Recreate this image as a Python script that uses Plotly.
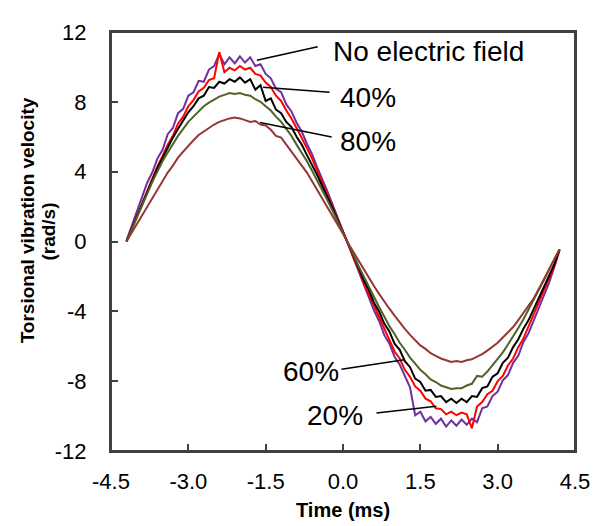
import plotly.graph_objects as go

time_ms = [-4.2, -4.1, -4.0, -3.9, -3.8, -3.7, -3.6, -3.5, -3.4, -3.3, -3.2, -3.1, -3.0,
           -2.9, -2.8, -2.7, -2.6, -2.5, -2.4, -2.3, -2.2, -2.1, -2.0, -1.9, -1.8, -1.7,
           -1.6, -1.5, -1.4, -1.3, -1.2, -1.1, -1.0, -0.9, -0.8, -0.7, -0.6, -0.5, -0.4,
           -0.3, -0.2, -0.1, 0.0, 0.1, 0.2, 0.3, 0.4, 0.5, 0.6, 0.7, 0.8, 0.9, 1.0, 1.1,
           1.2, 1.3, 1.4, 1.5, 1.6, 1.7, 1.8, 1.9, 2.0, 2.1, 2.2, 2.3, 2.4, 2.5, 2.6, 2.7,
           2.8, 2.9, 3.0, 3.1, 3.2, 3.3, 3.4, 3.5, 3.6, 3.7, 3.8, 3.9, 4.0, 4.1, 4.2]

no_field = [0.05, 0.85, 1.70, 2.50, 3.35, 3.95, 4.75, 5.25, 6.15, 6.50, 7.35, 7.60, 8.35,
            8.55, 9.20, 9.15, 9.85, 10.05, 10.75, 10.15, 10.55, 10.20, 10.60, 10.25, 10.55,
            10.05, 10.15, 9.60, 9.35, 8.75, 8.55, 7.85, 7.45, 6.80, 6.30, 5.60, 5.00, 4.25,
            3.60, 2.85, 2.10, 1.35, 0.60,
            -0.15, -0.95, -1.65, -2.50, -3.15, -3.95, -4.55, -5.35, -5.85, -6.60, -7.05,
            -7.75, -8.35, -9.95, -9.75, -10.30, -10.05, -10.45, -10.15, -10.60, -10.25,
            -10.55, -10.20, -10.50, -10.15, -10.35, -9.55, -9.45, -8.85, -8.60, -7.95,
            -7.65, -6.95, -6.55, -5.75, -5.25, -4.50, -3.85, -3.00, -2.35, -1.45, -0.50]

field_20 = [0.00, 0.72, 1.50, 2.20, 2.90, 3.60, 4.30, 4.90, 5.55, 6.05, 6.75, 7.15, 7.75,
            8.10, 8.60, 8.80, 9.25, 9.35, 10.85, 9.70, 9.95, 9.80, 10.05, 9.85, 9.95, 9.60,
            9.50, 9.10, 8.85, 8.35, 8.05, 7.50, 7.05, 6.50, 5.95, 5.35, 4.75, 4.05, 3.45,
            2.70, 2.05, 1.30, 0.60,
            -0.15, -0.90, -1.55, -2.35, -3.00, -3.75, -4.35, -5.05, -5.60, -6.30, -6.70,
            -7.35, -7.75, -8.30, -8.55, -9.00, -9.15, -9.55, -9.60, -9.90, -9.75, -9.95,
            -9.80, -9.90, -10.70, -9.45, -9.20, -8.75, -8.55, -8.00, -7.70, -7.10, -6.70,
            -6.05, -5.55, -4.85, -4.25, -3.50, -2.85, -2.15, -1.40, -0.45]

field_40 = [0.00, 0.72, 1.45, 2.15, 2.85, 3.50, 4.20, 4.80, 5.35, 5.95, 6.45, 6.90, 7.40,
            7.75, 8.20, 8.35, 8.85, 8.80, 9.15, 9.05, 9.30, 9.15, 9.40, 9.10, 9.30, 8.70,
            8.95, 8.05, 8.20, 7.55, 7.35, 6.85, 6.55, 6.00, 5.55, 4.95, 4.40, 3.80, 3.15,
            2.55, 1.90, 1.20, 0.55,
            -0.10, -0.85, -1.45, -2.20, -2.75, -3.50, -4.00, -4.70, -5.15, -5.85, -6.20,
            -6.85, -7.20, -7.85, -8.05, -8.55, -8.50, -8.90, -8.85, -9.20, -9.00, -9.25,
            -9.00, -9.20, -8.85, -8.90, -8.40, -8.30, -7.75, -7.55, -6.95, -6.65, -6.05,
            -5.60, -5.00, -4.50, -3.85, -3.25, -2.60, -2.00, -1.30, -0.45]

field_60 = [0.00, 0.70, 1.40, 2.10, 2.75, 3.40, 4.00, 4.60, 5.10, 5.60, 6.05, 6.45, 6.85,
            7.15, 7.45, 7.75, 7.95, 8.15, 8.30, 8.40, 8.50, 8.45, 8.50, 8.40, 8.35, 8.15,
            8.00, 7.75, 7.50, 7.15, 6.85, 6.45, 6.05, 5.55, 5.10, 4.60, 4.05, 3.50, 2.95,
            2.35, 1.75, 1.10, 0.50,
            -0.10, -0.75, -1.40, -2.00, -2.60, -3.20, -3.75, -4.30, -4.85, -5.30, -5.80,
            -6.20, -6.65, -7.00, -7.35, -7.60, -7.90, -8.05, -8.25, -8.35, -8.45, -8.40,
            -8.40, -8.25, -8.15, -7.70, -7.75, -7.45, -7.10, -6.75, -6.35, -5.90, -5.45,
            -4.95, -4.45, -3.90, -3.35, -2.80, -2.20, -1.60, -1.05, -0.45]

field_80 = [0.00, 0.50, 1.00, 1.50, 2.00, 2.50, 3.00, 3.45, 3.95, 4.35, 4.80, 5.15, 5.50,
            5.80, 6.10, 6.30, 6.55, 6.70, 6.85, 6.95, 7.05, 7.10, 7.05, 6.95, 6.85, 6.90,
            6.70, 6.65, 6.40, 6.05, 5.95, 5.55, 5.15, 4.80, 4.35, 3.95, 3.45, 2.95, 2.50,
            1.95, 1.45, 0.95, 0.45,
            -0.10, -0.60, -1.10, -1.60, -2.05, -2.55, -3.00, -3.45, -3.85, -4.25, -4.65,
            -5.00, -5.35, -5.65, -5.95, -6.15, -6.40, -6.55, -6.70, -6.80, -6.90, -6.85,
            -6.90, -6.80, -6.75, -6.60, -6.45, -6.25, -6.05, -5.80, -5.50, -5.20, -4.90,
            -4.50, -4.10, -3.65, -3.25, -2.70, -2.15, -1.55, -1.00, -0.45]

series_names = ["No electric field", "20%", "40%", "60%", "80%"]
series_values = [no_field, field_20, field_40, field_60, field_80]
series_colors = ["#7030A0", "#FF0000", "#000000", "#4F6228", "#953735"]

x_tick_vals = [-4.5, -3.0, -1.5, 0.0, 1.5, 3.0, 4.5]
x_tick_labels = ["-4.5", "-3.0", "-1.5", "0.0", "1.5", "3.0", "4.5"]
y_tick_vals = [-12, -8, -4, 0, 4, 8, 12]
y_tick_labels = ["-12", "-8", "-4", "0", "4", "8", "12"]

# label text, leader line start (x0,y0) -> end (x1,y1), label position (tx,ty)
label_texts = ["No electric field", "40%", "80%", "60%", "20%"]
leader_x0 = [-1.67, -1.55, -1.61, -0.03, 0.65]
leader_y0 = [10.38, 8.83, 6.82, -7.32, -9.83]
leader_x1 = [-0.49, -0.26, -0.22, 1.19, 1.81]
leader_y1 = [11.16, 8.55, 5.99, -6.77, -9.44]
label_x = [-0.24, -0.09, -0.09, -1.21, -0.73]
label_y = [10.9, 8.27, 5.73, -7.43, -9.94]

FONT = "Liberation Sans, Arial, sans-serif"

fig = go.Figure()
for name, vals, col in zip(series_names, series_values, series_colors):
    fig.add_trace(go.Scatter(x=time_ms, y=vals, mode="lines", name=name,
                             line=dict(color=col, width=2)))

for i, t in enumerate(label_texts):
    fig.add_shape(type="line", xref="x", yref="y",
                  x0=leader_x0[i], y0=leader_y0[i], x1=leader_x1[i], y1=leader_y1[i],
                  line=dict(color="black", width=1.5))
    fig.add_annotation(x=label_x[i], y=label_y[i], xref="x", yref="y", text=t,
                       showarrow=False, xanchor="left", yanchor="middle",
                       font=dict(family=FONT, size=28, color="black"))

# frame around the plot area
fig.add_shape(type="rect", xref="paper", yref="paper", x0=0, y0=0, x1=1, y1=1,
              line=dict(color="#404040", width=2), layer="above")

# axis titles
fig.add_annotation(x=0.5, y=-0.1415, xref="paper", yref="paper", text="<b>Time (ms)</b>",
                   showarrow=False, xanchor="center", yanchor="middle",
                   font=dict(family=FONT, size=20, color="black"))
fig.add_annotation(x=-0.1806, y=0.551, xref="paper", yref="paper",
                   text="<b>Torsional vibration velocity</b>", textangle=-90,
                   showarrow=False, xanchor="center", yanchor="middle",
                   font=dict(family=FONT, size=19, color="black"))
fig.add_annotation(x=-0.1355, y=0.524, xref="paper", yref="paper",
                   text="<b>(rad/s)</b>", textangle=-90,
                   showarrow=False, xanchor="center", yanchor="middle",
                   font=dict(family=FONT, size=19, color="black"))

axis_common = dict(showgrid=False, zeroline=False, showline=True, linecolor="#404040",
                   linewidth=2, mirror=True, ticks="inside", ticklen=7, tickwidth=2,
                   tickcolor="#404040", ticklabeloverflow="allow",
                   tickfont=dict(family=FONT, size=22, color="black"))

fig.update_xaxes(range=[-4.5, 4.5], tickmode="array", tickvals=x_tick_vals,
                 ticktext=x_tick_labels, ticklabelstandoff=10, **axis_common)
fig.update_yaxes(range=[-12, 12], tickmode="array", tickvals=y_tick_vals,
                 ticktext=y_tick_labels, ticklabelstandoff=18, **axis_common)

# the page places the figure 8px from the top-left, so it is sized to fit the window
fig.update_layout(width=594, height=518, margin=dict(l=103, r=26, t=12, b=75),
                  paper_bgcolor="white", plot_bgcolor="white", showlegend=False,
                  font=dict(family=FONT))

fig.write_html("out.html")
